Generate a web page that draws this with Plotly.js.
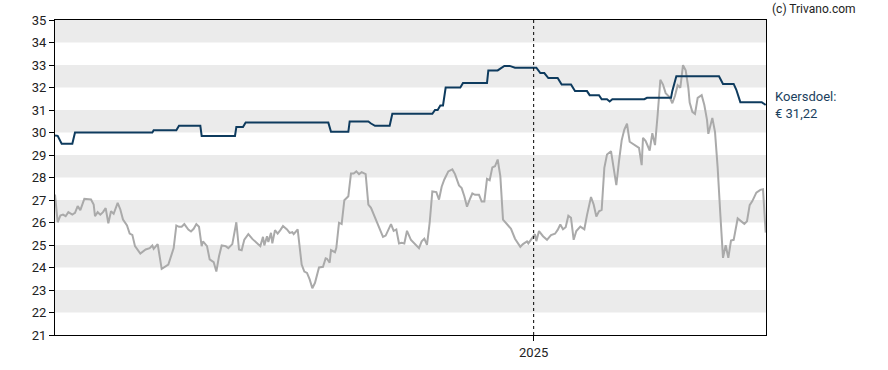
<!DOCTYPE html>
<html>
<head>
<meta charset="utf-8">
<script src="https://cdn.plot.ly/plotly-3.0.1.min.js"></script>
<style>
  html, body { margin: 0; padding: 0; background: #ffffff; }
  #chart { width: 888px; height: 370px; }
</style>
</head>
<body>
<div id="chart"></div>
<script>
// Dates are stored as day offsets from startDate
const startDate = "2024-01-08";
const endOffset = 533.25;

// Share price (gray)
const priceDays = [0,2,4,6,8,10,13,15,17,19,22,25,27,29,30,32,34,36,38,40,42,44,47,49,51,54,56,58,60,64,68,71,73,74,77,80,85,89,91,93,95,97,100,102,104,106,108,110,111,114,116,119,121,123,125,128,130,133,136,138,140,142,145,148,151,154,156,157,159,160,162,163,165,167,169,171,174,176,178,179,182,185,187,189,191,193,195,198,201,203,204,206,207,210,211,213,215,217,220,222,224,226,228,230,233,235,237,240,243,246,248,252,254,256,258,260,262,264,267,270,273,275,277,279,281,283,286,288,290,292,295,298,300,303,305,307,309,311,313,315,318,320,322,324,326,328,330,332,334,336,339,342,345,349,351,354,355,358,360,361,363,366,369,372,375,377,379,381,383,385,387,389,391,394,397,399,402,404,406,408,410,412,414,417,419,421,423,425,427,429,431,434,436,438,440,441,443,446,448,450,452,454,456,458,460,461,463,465,467,469,471,473,475,476,478,480,482,485,487,489,490,492,493,495,497,499,501,503,505,507,509,512,515,517,519,521,523,526,529,531,533];
const priceValues = [27.24,26.01,26.31,26.35,26.28,26.46,26.35,26.43,26.73,26.55,27.05,27.02,27.02,26.8,26.28,26.46,26.35,26.46,26.64,25.96,26.5,26.39,26.87,26.58,26.13,25.87,25.51,25.45,24.95,24.62,24.8,24.86,24.98,24.83,25.04,23.94,24.13,24.86,25.87,25.81,25.81,25.93,25.69,25.6,25.72,25.93,25.81,24.95,25.16,24.95,24.36,24.24,23.82,24.5,24.98,24.95,24.86,25.04,26.01,24.8,24.77,25.24,25.48,25.27,25.09,24.95,25.36,24.98,25.39,25.13,25.54,25.07,25.66,25.51,25.66,25.84,25.69,25.54,25.57,25.48,25.69,24.13,23.82,23.76,23.47,23.08,23.32,24.0,24.03,24.41,24.39,24.21,24.77,24.68,24.87,25.99,25.93,26.99,27.17,28.18,28.18,28.27,28.15,28.24,28.15,26.8,26.65,26.21,25.84,25.36,25.42,25.93,25.63,25.69,25.07,25.1,25.07,25.63,25.22,25.04,24.86,25.16,25.28,25.01,25.99,27.38,27.35,27.02,27.59,27.91,28.27,28.36,28.15,27.65,27.53,27.17,26.7,27.02,27.29,27.23,27.23,26.93,26.93,27.94,27.88,28.45,28.5,28.8,28.06,26.13,25.9,25.72,25.28,24.92,25.04,25.16,25.07,25.3,25.48,25.17,25.62,25.39,25.23,25.44,25.5,25.67,25.91,25.7,25.79,26.3,26.21,25.23,25.62,25.82,25.7,26.33,27.13,26.8,26.27,26.5,26.56,28.43,29.02,29.17,28.43,27.66,28.73,29.65,30.13,30.39,29.59,29.47,29.38,29.32,28.55,29.76,29.62,29.2,29.97,29.44,30.8,32.34,32.13,31.75,31.63,31.57,31.3,31.63,32.1,31.99,32.99,32.76,31.99,31.33,30.92,30.83,31.54,31.66,31.22,30.56,29.94,30.47,30.65,30.03,28.43,26.36,24.43,24.99,24.43,25.2,25.23,26.18,26.06,25.94,26.06,26.77,26.95,27.33,27.45,27.48,25.55];

// Target price / koersdoel (dark blue)
const targetDays = [0,2,5,13,15,73,74,91,93,109,110,135,136,141,143,205,207,220,221,235,237,240,251,253,283,285,287,289,291,293,304,306,324,325,332,334,337,341,345,361,364,367,370,377,380,387,390,399,401,408,410,414,416,418,442,444,462,463,466,498,501,509,511,514,530,533];
const targetValues = [29.87,29.85,29.5,29.5,30.0,30.0,30.1,30.1,30.3,30.3,29.85,29.85,30.24,30.24,30.44,30.44,30.03,30.03,30.49,30.49,30.4,30.3,30.3,30.83,30.83,31.0,31.0,31.2,31.2,32.0,32.0,32.2,32.2,32.76,32.76,32.84,32.96,32.96,32.88,32.88,32.64,32.64,32.42,32.42,32.13,32.13,31.84,31.84,31.66,31.66,31.48,31.48,31.38,31.48,31.48,31.54,31.54,31.85,32.5,32.5,32.16,32.16,31.9,31.35,31.35,31.22];

const yTicks = [21,22,23,24,25,26,27,28,29,30,31,32,33,34,35];
const bandStarts = [22,24,26,28,30,32,34];
const yearMarker = "2025-01-01";
const yearLabel = "2025";
const targetLabel = "Koersdoel:<br>€ 31,22";
const lastTarget = 31.22;
const credit = "(c) Trivano.com";

function pad(n){ return (n < 10 ? "0" : "") + n; }
function toDate(d){
  const base = Date.UTC(2024, 0, 8);
  const t = new Date(base + d * 86400000);
  return t.getUTCFullYear() + "-" + pad(t.getUTCMonth()+1) + "-" + pad(t.getUTCDate()) +
    " " + pad(t.getUTCHours()) + ":" + pad(t.getUTCMinutes()) + ":00";
}

const shapes = bandStarts.map(b => ({
  type: "rect", xref: "paper", yref: "y", x0: 0, x1: 1, y0: b, y1: b + 1,
  fillcolor: "#ebebeb", line: {width: 0}, layer: "below"
}));
shapes.push({
  type: "line", xref: "x", yref: "paper", x0: yearMarker, x1: yearMarker, y0: 0, y1: 1,
  line: {color: "#000000", width: 1, dash: "dot"}, layer: "above"
});

const traces = [
  {
    x: priceDays.map(toDate), y: priceValues, type: "scatter", mode: "lines",
    line: {color: "#aaaaaa", width: 2}, hoverinfo: "skip", showlegend: false
  },
  {
    x: targetDays.map(toDate), y: targetValues, type: "scatter", mode: "lines",
    line: {color: "#0e3b5e", width: 2}, hoverinfo: "skip", showlegend: false
  }
];

const layout = {
  width: 888, height: 370,
  margin: {l: 55, r: 122, t: 20, b: 35},
  paper_bgcolor: "#ffffff", plot_bgcolor: "#ffffff",
  font: {family: "Roboto, 'DejaVu Sans', sans-serif", size: 13, color: "#222222"},
  showlegend: false,
  xaxis: {
    type: "date",
    range: [toDate(0), toDate(endOffset)],
    tickvals: [yearMarker], ticktext: [yearLabel],
    ticks: "outside", ticklen: 5, tickcolor: "#000000",
    showline: true, linecolor: "#000000", linewidth: 1, mirror: true,
    showgrid: false, zeroline: false,
    tickfont: {size: 13, color: "#222222"}
  },
  yaxis: {
    range: [21, 35],
    tickvals: yTicks,
    ticks: "outside", ticklen: 5, tickcolor: "#000000",
    showline: true, linecolor: "#000000", linewidth: 1, mirror: true,
    showgrid: false, zeroline: false,
    tickfont: {size: 13, color: "#222222"}
  },
  shapes: shapes,
  annotations: [
    {
      xref: "paper", yref: "paper", x: 1, y: 1, xshift: 4, yshift: 11,
      xanchor: "left", yanchor: "middle", showarrow: false,
      text: credit, font: {size: 12, color: "#222222"}
    },
    {
      xref: "paper", yref: "y", x: 1, y: lastTarget, xshift: 7,
      xanchor: "left", yanchor: "middle", align: "left", showarrow: false,
      text: targetLabel, font: {size: 13, color: "#1b3f5e"}
    }
  ]
};

Plotly.newPlot("chart", traces, layout, {staticPlot: true, displayModeBar: false});
</script>
</body>
</html>
